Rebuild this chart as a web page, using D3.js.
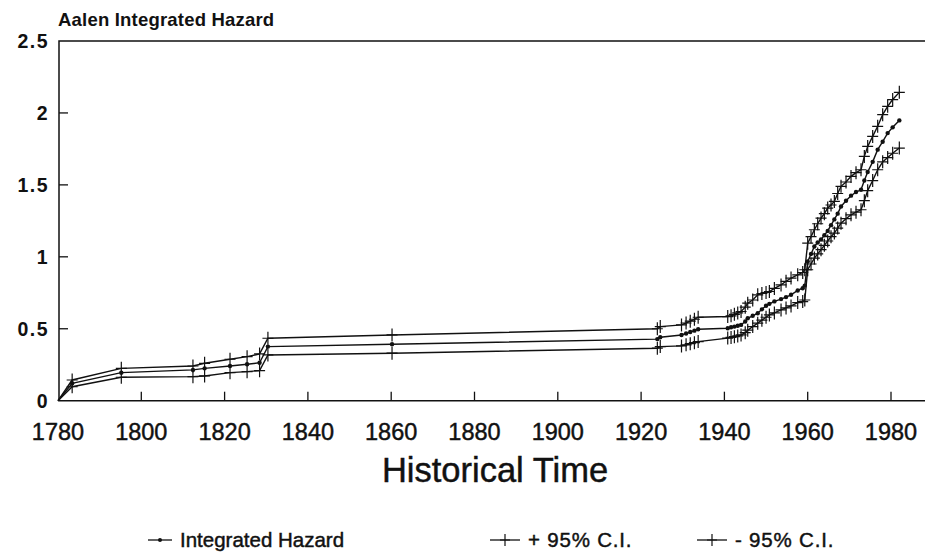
<html>
<head>
<title>Aalen Integrated Hazard</title>
<script src="https://d3js.org/d3.v7.min.js"></script>
<style>
body { margin: 0; background: #fff; font-family: 'Liberation Sans', Arial, sans-serif; }
svg { display: block; }
.frame { fill: none; stroke: #111; stroke-width: 1.5; }
.curve { fill: none; stroke: #111; stroke-width: 1.4; }
.heavy { stroke: #111; stroke-width: 0.45; }
</style>
</head>
<body>
<svg width="925" height="556"></svg>

<script>
// event times and estimates
var years = [1780, 1783.4, 1795.2, 1812.4, 1815.2, 1821.3, 1825.4, 1828.4, 1830.4, 1860.2,
  1923.9, 1924.6, 1929.7, 1930.8, 1931.8, 1932.8, 1933.7, 1940.8, 1941.6, 1942.4,
  1943.2, 1944.0, 1945.0, 1945.6, 1946.8, 1948.0, 1949.0, 1950.0, 1950.8, 1952.0,
  1953.6, 1954.8, 1956.0, 1957.6, 1958.8, 1959.3, 1960.0, 1960.8, 1961.6, 1962.4,
  1963.2, 1964.0, 1964.8, 1965.6, 1966.4, 1967.2, 1968.0, 1969.2, 1970.4, 1971.6,
  1972.8, 1973.6, 1974.4, 1975.6, 1976.8, 1978.0, 1979.2, 1980.4, 1982.0];

var hazard = [0, 0.121, 0.195, 0.214, 0.225, 0.241, 0.253, 0.264, 0.376, 0.392,
  0.428, 0.441, 0.457, 0.467, 0.477, 0.487, 0.497, 0.504, 0.510, 0.515,
  0.521, 0.527, 0.550, 0.573, 0.590, 0.608, 0.635, 0.660, 0.673, 0.690,
  0.706, 0.720, 0.736, 0.766, 0.782, 0.80, 0.967, 1.02, 1.072, 1.10,
  1.12, 1.15, 1.18, 1.22, 1.26, 1.30, 1.35, 1.39, 1.425, 1.45,
  1.466, 1.53, 1.59, 1.66, 1.745, 1.80, 1.86, 1.90, 1.948];

var upper = [0, 0.144, 0.225, 0.241, 0.26, 0.288, 0.306, 0.325, 0.434, 0.457,
  0.50, 0.515, 0.527, 0.540, 0.553, 0.566, 0.580, 0.585, 0.59, 0.60,
  0.61, 0.62, 0.65, 0.678, 0.70, 0.736, 0.745, 0.752, 0.759, 0.78,
  0.805, 0.83, 0.852, 0.875, 0.891, 0.91, 1.095, 1.14, 1.188, 1.23,
  1.269, 1.30, 1.339, 1.36, 1.385, 1.44, 1.49, 1.52, 1.559, 1.585,
  1.605, 1.698, 1.767, 1.837, 1.907, 1.988, 2.046, 2.093, 2.143];

var lower = [0, 0.097, 0.163, 0.167, 0.172, 0.195, 0.202, 0.209, 0.318, 0.33,
  0.365, 0.376, 0.381, 0.388, 0.396, 0.403, 0.411, 0.435, 0.440, 0.445,
  0.450, 0.457, 0.473, 0.49, 0.515, 0.539, 0.56, 0.58, 0.596, 0.61,
  0.631, 0.645, 0.659, 0.682, 0.689, 0.70, 0.91, 0.95, 0.991, 1.02,
  1.05, 1.08, 1.11, 1.14, 1.165, 1.20, 1.234, 1.265, 1.292, 1.31,
  1.327, 1.39, 1.46, 1.53, 1.605, 1.66, 1.69, 1.72, 1.756];

var xTicks = [1780, 1800, 1820, 1840, 1860, 1880, 1900, 1920, 1940, 1960, 1980];
var yTicks = [0, 0.5, 1, 1.5, 2, 2.5];
var yTickLabels = ["0", "0.5", "1", "1.5", "2", "2.5"];

var titleText = "Aalen Integrated Hazard";
var xTitle = "Historical Time";
var legendNames = ["Integrated Hazard", "+ 95% C.I.", "- 95% C.I."];

var svg = d3.select("svg");

var x = d3.scaleLinear().domain([1780, 1980]).range([58, 891]);
var y = d3.scaleLinear().domain([0, 2.5]).range([400.7, 41]);

var plotLeft = 59, plotRight = 925, plotTop = y(2.5), plotBottom = y(0);

// frame: left, top, bottom (right side runs off the page)
svg.append("path").attr("class", "frame")
  .attr("d", "M" + plotRight + "," + plotTop + "H" + plotLeft + "V" + plotBottom + "H" + plotRight);

// x ticks point up into the plot
svg.selectAll("line.xtick").data(xTicks.slice(1)).enter()
  .append("line").attr("class", "xtick")
  .attr("x1", function (d) { return x(d); })
  .attr("x2", function (d) { return x(d); })
  .attr("y1", plotBottom).attr("y2", plotBottom - 9)
  .attr("stroke", "#111").attr("stroke-width", 1.3);

svg.selectAll("text.xlab").data(xTicks).enter()
  .append("text").attr("class", "xlab heavy")
  .attr("x", function (d) { return x(d); })
  .attr("y", 440)
  .attr("text-anchor", "middle")
  .style("font-size", "23.5px")
  .style("fill", "#111")
  .text(function (d) { return d; });

// y ticks point right
svg.selectAll("line.ytick").data(yTicks.slice(1, 5)).enter()
  .append("line").attr("class", "ytick")
  .attr("x1", plotLeft).attr("x2", plotLeft + 9)
  .attr("y1", function (d) { return y(d); })
  .attr("y2", function (d) { return y(d); })
  .attr("stroke", "#111").attr("stroke-width", 1.3);

svg.selectAll("text.ylab").data(yTicks).enter()
  .append("text").attr("class", "ylab")
  .attr("x", 49)
  .attr("y", function (d) { return y(d) + 7; })
  .attr("text-anchor", "end")
  .style("font-size", "19.5px")
  .style("font-weight", "bold")
  .style("letter-spacing", "1.5px")
  .style("fill", "#111")
  .text(function (d, i) { return yTickLabels[i]; });

svg.append("text")
  .attr("x", 58).attr("y", 26)
  .style("font-size", "18.5px").style("font-weight", "bold").style("fill", "#111")
  .style("letter-spacing", "0.2px")
  .text(titleText);

svg.append("text").attr("class", "heavy")
  .attr("x", 495).attr("y", 482)
  .attr("text-anchor", "middle")
  .style("font-size", "34.5px").style("fill", "#111")
  .text(xTitle);

// curves
var line = d3.line()
  .x(function (d) { return x(d[0]); })
  .y(function (d) { return y(d[1]); });

function pairs(vals) {
  return years.map(function (yr, i) { return [yr, vals[i]]; });
}

var series = [hazard, upper, lower];
series.forEach(function (vals) {
  svg.append("path").attr("class", "curve").attr("d", line(pairs(vals)));
});

// dots on the hazard
svg.selectAll("circle.hz").data(pairs(hazard).slice(1)).enter()
  .append("circle").attr("class", "hz")
  .attr("cx", function (d) { return x(d[0]); })
  .attr("cy", function (d) { return y(d[1]); })
  .attr("r", 2.2).attr("fill", "#111");

// plus marks on the confidence limits
function plusPath(px, py, s) {
  return "M" + (px - s) + "," + py + "h" + (2 * s) + "M" + px + "," + (py - s - 1) + "v" + (2 * s + 2);
}

[upper, lower].forEach(function (vals) {
  svg.append("g").selectAll("path").data(pairs(vals).slice(1)).enter()
    .append("path")
    .attr("d", function (d) { return plusPath(x(d[0]), y(d[1]), 5.5); })
    .attr("stroke", "#111").attr("stroke-width", 1.2).attr("fill", "none");
});

// legend
var legX = [148, 490, 697];
var legW = [24, 30, 30];
var legY = 540;

legendNames.forEach(function (name, i) {
  var g = svg.append("g");
  g.append("line")
    .attr("x1", legX[i]).attr("x2", legX[i] + legW[i])
    .attr("y1", legY).attr("y2", legY)
    .attr("stroke", "#111").attr("stroke-width", 1.3);
  var cx = legX[i] + legW[i] / 2;
  if (i == 0) {
    g.append("circle").attr("cx", cx).attr("cy", legY).attr("r", 2).attr("fill", "#111");
  } else {
    g.append("path").attr("d", plusPath(cx, legY, 5))
      .attr("stroke", "#111").attr("stroke-width", 1.2);
  }
  g.append("text").attr("class", "heavy")
    .attr("x", legX[i] + legW[i] + 8)
    .attr("y", legY + 7)
    .style("font-size", "20.5px").style("fill", "#111")
    .style("letter-spacing", i == 0 ? "0px" : "0.8px")
    .text(name);
});
</script>
</body>
</html>
